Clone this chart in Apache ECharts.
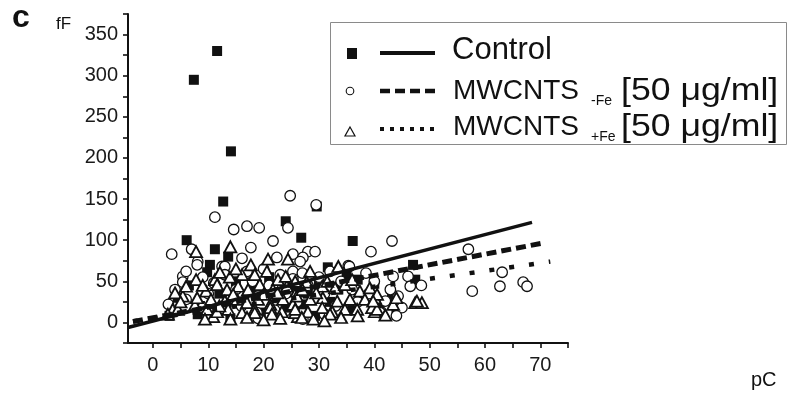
<!DOCTYPE html>
<html>
<head>
<meta charset="utf-8">
<script src="https://cdn.jsdelivr.net/npm/echarts@6/dist/echarts.min.js"></script>
<style>
  html, body { margin: 0; padding: 0; background: #fff; }
  #chart { width: 789px; height: 402px; }
</style>
</head>
<body>
<div id="chart"></div>
<script>
// Capacitance (fF) against charge (pC), one scatter per treatment group.
const ctrlPts = [
  [7.4,295],[11.6,330],[14.1,208],[12.7,147],[6.1,100],[11.2,89],[24,123],[26.8,103],
  [29.6,141],[36.1,99],[13.6,80],[10.3,70],[9.8,61],[31.6,67],[47,70],[47.4,52],
  [35,56],[37,52],[29.3,8],[27,22],[8.1,10],[43.2,29],[40,47],
  [4.5,30],[6.5,45],[8.5,20],[12,35],[15,50],[16.5,25],[18,42],[19.5,12],[21,55],
  [22.5,30],[24,18],[25.5,45],[28,35],[30,50],[32,25],[33.5,40],[36,15],[38,30],
  [41,20],[44,12],[3,8],[14,5],[20,40]
];

const feFreePts = [
  [24.8,154],[29.5,143],[11.2,128],[14.6,113],[17,117],[19.2,115],[24.4,115],[21.7,99],
  [17.7,91],[43.2,99],[39.4,86],[57,89],[57.7,38],[63.1,61],[62.7,44],[66.9,49],
  [67.6,44],[43.4,56],[46.1,56],[46.5,44],[48.5,45],[44.3,32],[45,18],[42.9,40],
  [25.3,83],[28,86],[29.3,86],[27.1,79],[26.6,74],[22.4,79],[16.1,78],[12.5,68],
  [8.1,74],[7,89],[35.3,69],[25.3,62],[25.3,53],[3.4,83],[2.8,22],[5.4,56],
  [5.4,49],[8,70],[13,68],[35.5,68],[40,50],[42,26],[38.5,60],[27.1,4],[18.8,12],
  [4,40],[6,62],[9,55],[10,35],[11,48],[13,58],[15,40],[16,20],[17,62],[18,50],
  [19,32],[20,65],[21,45],[22,15],[23,58],[24,35],[26,25],[27,60],[28,45],[30,55],
  [31,35],[32,62],[33,20],[34,50],[36,40],[37,25],[39,35],[41,12],[14,28],[9,18],
  [6,28],[44,8],[31,10],[19,5]
];

const feLoadedPts = [
  [14,92],[7.8,86],[20.8,77],[24.4,77],[17.7,70],[28.4,62],[33.5,68],[47.4,24],[48.6,24],
  [43.4,22],[10.9,7],[26.2,7],[40.1,13],[5.4,32],[3.6,16],[6,44],[7.8,52],[9.6,38],
  [7.6,21],[9.8,16],[4.5,16],[11.2,52],[10.5,28],[12.1,61],[13.9,55],[16.1,58],
  [18.4,58],[20.6,62],[22.6,52],[11.6,46],[13.4,40],[15.4,44],[17.2,40],[19.3,46],
  [21.7,40],[24.2,44],[26,38],[13,26],[15.2,28],[17,24],[19,28],[21.2,22],[23.5,28],
  [25.3,22],[11.6,13],[13.6,16],[16.1,12],[18.4,16],[21.2,18],[23.3,13],[25.7,12],
  [25.7,50],[27.8,49],[30.6,44],[32.9,42],[34.7,46],[37.4,38],[39.2,42],[26,32],
  [28.4,28],[30.7,30],[33.3,26],[35.6,28],[38.3,28],[40.1,30],[25.7,16],[28,13],
  [30.6,18],[32.4,13],[34.7,16],[36.9,16],[39.6,18],[26.9,6],[32,10],[40.5,34],
  [40.5,16],[47.7,26],[39.8,26],[4,36],[2.7,10],[9.4,4],[21.5,10],[18.4,12],
  [14,4],[17,6],[20,3],[23,5],[29,4],[34,6],[37,8],[42,9],[31,2],
  [5,25],[8,30],[12,20],[14.5,34],[20,34],[22.5,36],[27,40],[29.5,36],[31.5,50],
  [36,52],[24,56],[15,65],[9,45],[44,30]
];

// Linear fits per group: y = slope * x + intercept over [fitStart, fitEnd]
const fitSlope = [1.75, 1.29, 0.96];
const fitIntercept = [1.8, 5.6, 5.0];
const fitStart = [-4.5, -3.6, -3.6];
const fitEnd = [68.5, 70.7, 71.8];

const xLabelValues = [0, 10, 20, 30, 40, 50, 60, 70];
const xTickValues = [0, 5, 10, 15, 20, 25, 30, 35, 40, 45, 50, 55, 60, 65, 70, 75];
const yLabelValues = [0, 50, 100, 150, 200, 250, 300, 350];

const FONT = 'Liberation Sans, Arial, Helvetica, sans-serif';
const INK = '#111';

function fitLine(i) {
  return [fitStart[i], fitEnd[i]].map(x => [x, fitSlope[i] * x + fitIntercept[i]]);
}

const chart = echarts.init(document.getElementById('chart'), null, { renderer: 'canvas' });

const axisLine = { show: true, onZero: false, lineStyle: { color: INK, width: 2 } };
const axisTick = { show: true, inside: false, length: 5, lineStyle: { color: INK, width: 1.6 } };
const axisLabel = { color: '#1a1a1a', fontFamily: FONT, fontSize: 20 };

// concentration tag, drawn slightly widened to span the legend row
function concText(y) {
  return {
    type: 'text', x: 621, y: y, scaleX: 1.15, z: 11,
    style: { text: '[50 μg/ml]', font: '31px ' + FONT, fill: INK, verticalAlign: 'middle' }
  };
}

chart.setOption({
  animation: false,
  backgroundColor: '#fff',
  grid: { left: 128, right: 221, top: 14, bottom: 59, containLabel: false },
  xAxis: {
    type: 'value', min: -4.5, max: 75,
    axisLine: axisLine,
    axisTick: Object.assign({}, axisTick, { customValues: xTickValues }),
    splitLine: { show: false },
    axisLabel: Object.assign({}, axisLabel, { customValues: xLabelValues, margin: 12 })
  },
  yAxis: {
    type: 'value', min: -25, max: 375, interval: 25,
    axisLine: axisLine,
    axisTick: axisTick,
    splitLine: { show: false },
    axisLabel: Object.assign({}, axisLabel, {
      margin: 10,
      formatter: v => (yLabelValues.indexOf(v) >= 0 ? String(v) : '')
    })
  },
  series: [
    {
      name: 'Control', type: 'scatter', data: ctrlPts, z: 2,
      symbol: 'rect', symbolSize: 10,
      itemStyle: { color: INK, opacity: 1 }
    },
    {
      name: 'MWCNTS -Fe', type: 'scatter', data: feFreePts, z: 3,
      symbol: 'circle', symbolSize: 10.5,
      itemStyle: { color: '#fff', borderColor: INK, borderWidth: 1.3, opacity: 1 }
    },
    {
      name: 'MWCNTS +Fe', type: 'scatter', data: feLoadedPts, z: 4,
      symbol: 'triangle', symbolSize: [12, 11],
      itemStyle: { color: '#fff', borderColor: INK, borderWidth: 1.8, opacity: 1 }
    },
    {
      name: 'Control fit', type: 'line', data: fitLine(0), z: 5,
      showSymbol: false, symbol: 'none',
      lineStyle: { color: INK, width: 3.5, type: 'solid' }
    },
    {
      name: 'MWCNTS -Fe fit', type: 'line', data: fitLine(1), z: 5,
      showSymbol: false, symbol: 'none',
      lineStyle: { color: INK, width: 5, type: [10, 5], cap: 'butt' }
    },
    {
      name: 'MWCNTS +Fe fit', type: 'line', data: fitLine(2), z: 5,
      showSymbol: false, symbol: 'none',
      lineStyle: { color: INK, width: 4.5, type: [5, 15], cap: 'butt' }
    }
  ],
  graphic: [
    // panel letter and axis units
    { type: 'text', left: 12, top: 2, style: { text: 'c', font: 'bold 32px ' + FONT, fill: INK } },
    { type: 'text', left: 56, top: 16, style: { text: 'fF', font: '17px ' + FONT, fill: INK } },
    { type: 'text', left: 751, top: 370, style: { text: 'pC', font: '20px ' + FONT, fill: INK } },
    // legend frame
    { type: 'rect', shape: { x: 330.5, y: 22.5, width: 456, height: 122 },
      style: { fill: '#fff', stroke: '#8a8a8a', lineWidth: 1 }, z: 10 },
    // row 1: Control
    { type: 'rect', shape: { x: 347, y: 48, width: 10, height: 11 }, style: { fill: INK }, z: 11 },
    { type: 'line', shape: { x1: 380, y1: 53, x2: 435, y2: 53 },
      style: { stroke: INK, lineWidth: 4 }, z: 11 },
    { type: 'text', x: 452, y: 50, z: 11,
      style: { text: 'Control', font: '31px ' + FONT, fill: INK, verticalAlign: 'middle' } },
    // row 2: MWCNTS -Fe
    { type: 'circle', shape: { cx: 350, cy: 91, r: 3.8 },
      style: { fill: '#fff', stroke: INK, lineWidth: 1.1 }, z: 11 },
    { type: 'line', shape: { x1: 380, y1: 91, x2: 435, y2: 91 },
      style: { stroke: INK, lineWidth: 4.5, lineDash: [10, 5] }, z: 11 },
    { type: 'text', x: 453, y: 91, z: 11,
      style: { text: 'MWCNTS', font: '28px ' + FONT, fill: INK, verticalAlign: 'middle' } },
    { type: 'text', x: 591, y: 101, z: 11,
      style: { text: '-Fe', font: '14px ' + FONT, fill: INK, verticalAlign: 'middle' } },
    concText(91),
    // row 3: MWCNTS +Fe
    { type: 'polygon', shape: { points: [[350, 127], [355, 136], [345, 136]] },
      style: { fill: '#fff', stroke: INK, lineWidth: 1.2 }, z: 11 },
    { type: 'line', shape: { x1: 380, y1: 129, x2: 435, y2: 129 },
      style: { stroke: INK, lineWidth: 4, lineDash: [4, 6] }, z: 11 },
    { type: 'text', x: 453, y: 127, z: 11,
      style: { text: 'MWCNTS', font: '28px ' + FONT, fill: INK, verticalAlign: 'middle' } },
    { type: 'text', x: 591, y: 137, z: 11,
      style: { text: '+Fe', font: '14px ' + FONT, fill: INK, verticalAlign: 'middle' } },
    concText(127)
  ]
});
</script>
</body>
</html>
